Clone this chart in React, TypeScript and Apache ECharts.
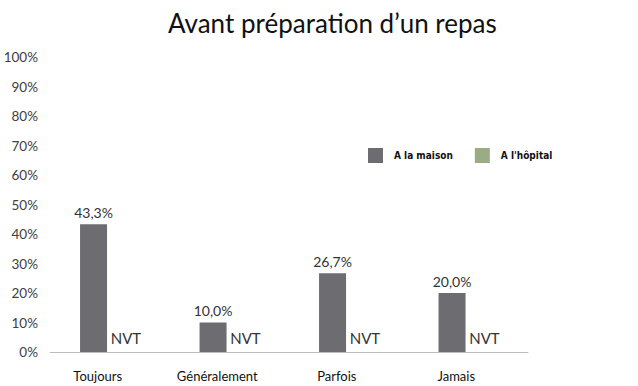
import React, { useEffect, useRef } from "react";
import * as echarts from "echarts";

const categories = ["Toujours", "Généralement", "Parfois", "Jamais"];
const maisonValues = [43.3, 10.0, 26.7, 20.0];
const hopitalValues = [0, 0, 0, 0];
const hopitalLabels = ["NVT", "NVT", "NVT", "NVT"];
const seriesNames = ["A la maison", "A l'hôpital"];
const titleText = "Avant préparation d\u2019un repas";

export default function App() {
  const ref = useRef<HTMLDivElement>(null);
  useEffect(() => {
    if (!ref.current) return;
    const chart = echarts.init(ref.current, null, { renderer: "svg" });
    const font = "Lato, 'Open Sans', sans-serif";
    chart.setOption({
      animation: false,
      backgroundColor: "#ffffff",
      title: {
        text: titleText,
        left: 163,
        top: 5,
        textStyle: { fontFamily: font, fontSize: 26, fontWeight: "normal", color: "#111" },
      },
      legend: {
        left: 363,
        top: 143,
        itemWidth: 15,
        itemHeight: 15,
        itemGap: 22,
        icon: "rect",
        data: seriesNames,
        textStyle: {
          fontFamily: "'DejaVu Sans Condensed', sans-serif",
          fontWeight: "bold",
          fontSize: 10,
          color: "#111",
          padding: [0, 0, 0, 6],
        },
      },
      grid: { left: 50, right: 110, top: 57, bottom: 34, containLabel: false },
      xAxis: {
        type: "category",
        data: categories,
        axisLine: { lineStyle: { color: "#bdbdbd", width: 1 } },
        axisTick: { show: false },
        axisLabel: {
          fontFamily: font,
          fontSize: 13,
          color: "#111",
          margin: 17,
          lineHeight: 14,
          padding: [0, 24, 0, 0],
        },
      },
      yAxis: {
        type: "value",
        min: 0,
        max: 100,
        interval: 10,
        splitLine: { show: false },
        axisLine: { show: false },
        axisTick: { show: false },
        axisLabel: {
          formatter: "{value}%",
          fontFamily: font,
          fontSize: 13.5,
          color: "#404040",
          margin: 12,
        },
      },
      series: [
        {
          name: seriesNames[0],
          type: "bar",
          data: maisonValues,
          barWidth: 27,
          barGap: "20%",
          itemStyle: { color: "#6d6c71" },
          label: {
            show: true,
            position: "top",
            distance: 5,
            fontFamily: font,
            fontSize: 14,
            color: "#333",
            formatter: (p: any) => p.value.toFixed(1).replace(".", ",") + "%",
          },
        },
        {
          name: seriesNames[1],
          type: "bar",
          data: hopitalValues,
          barWidth: 27,
          itemStyle: { color: "#9bab83" },
          label: {
            show: true,
            position: "top",
            distance: 7,
            fontFamily: font,
            fontSize: 15,
            color: "#333",
            formatter: (p: any) => hopitalLabels[p.dataIndex],
          },
        },
      ],
    });
    return () => chart.dispose();
  }, []);
  return (
    <div
      ref={ref}
      style={{ position: "fixed", left: 0, top: 0, width: 638, height: 386 }}
    />
  );
}
